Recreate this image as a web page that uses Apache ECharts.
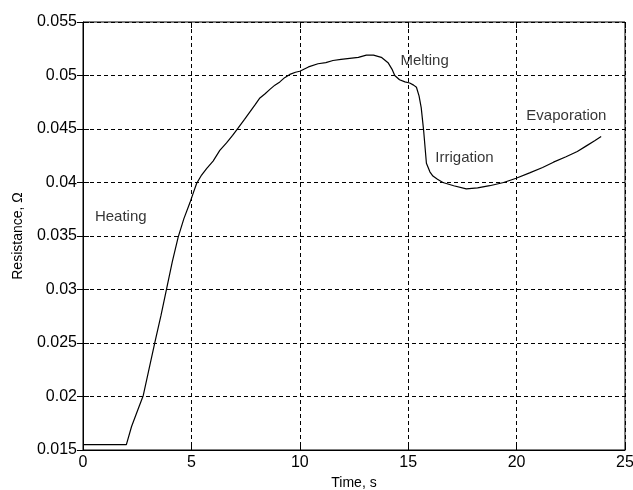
<!DOCTYPE html>
<html>
<head>
<meta charset="utf-8">
<title>Resistance vs time</title>
<script src="https://cdn.jsdelivr.net/npm/echarts@6/dist/echarts.min.js"></script>
<style>
  html, body { margin: 0; padding: 0; background: #fff; }
  #main { width: 633px; height: 490px; }
</style>
</head>
<body>
<div id="main"></div>
<script>
// 时间 (s) 与电阻 (Ω)
var timeS = [0, 2.0, 2.24, 2.5, 2.78, 3.05, 3.32, 3.6, 3.86, 4.12, 4.39, 4.65, 4.93, 5.1, 5.24,
  5.47, 5.7, 6.0, 6.31, 6.62, 6.9, 7.16, 7.45, 7.7, 7.95, 8.16, 8.4, 8.62, 8.85, 9.08, 9.3,
  9.54, 9.8, 10.0, 10.4, 10.84, 11.2, 11.53, 11.9, 12.3, 12.7, 13.07, 13.4, 13.76, 14.07,
  14.25, 14.38, 14.6, 14.85, 15.07, 15.25, 15.38, 15.5, 15.6, 15.71, 15.84, 16.0, 16.14,
  16.35, 16.6, 17.1, 17.68, 18.2, 18.76, 19.4, 19.98, 20.6, 21.2, 21.7, 22.28, 22.8, 23.2,
  23.6, 23.9];
var resistance = [0.0155, 0.0155, 0.0172, 0.0186, 0.0201, 0.0226, 0.0251, 0.0276, 0.0301,
  0.0326, 0.0349, 0.0366, 0.0381, 0.0391, 0.0399, 0.0407, 0.0413, 0.0420, 0.0430, 0.0437,
  0.0444, 0.0451, 0.0459, 0.0466, 0.0473, 0.0479, 0.0483, 0.0487, 0.0491, 0.0494, 0.0498,
  0.0501, 0.0503, 0.0504, 0.0508, 0.0511, 0.0512, 0.0514, 0.0515, 0.0516, 0.0517, 0.0519,
  0.0519, 0.0517, 0.0512, 0.0506, 0.0500, 0.0496, 0.0494, 0.0493, 0.0491, 0.0489, 0.0481,
  0.0470, 0.0449, 0.0418, 0.0410, 0.0406, 0.0403, 0.0400, 0.0397, 0.0394, 0.0395, 0.0397,
  0.0400, 0.0404, 0.0409, 0.0414, 0.0419, 0.0424, 0.0429, 0.0434, 0.0439, 0.0443];

// 阶段标注
var stageNames = ['Heating', 'Melting', 'Irrigation', 'Evaporation'];
var stageT = [0.55, 14.64, 16.25, 20.45];
var stageV = [0.0368, 0.0514, 0.04226, 0.04624];

var lineData = timeS.map(function (t, i) { return [t, resistance[i]]; });
var stageData = stageNames.map(function (n, i) { return { name: n, value: [stageT[i], stageV[i]] }; });

var font = 'Liberation Sans, Arial, sans-serif';
var dashGrid = { show: true, lineStyle: { color: '#000', type: [4, 3], width: 1 } };

var option = {
  backgroundColor: '#fff',
  animation: false,
  grid: {
    left: 83, right: 8, top: 22, bottom: 40, outerBoundsMode: 'none',
    show: true, borderColor: '#000', borderWidth: 1
  },
  xAxis: [{
    type: 'value', min: 0, max: 25, interval: 5,
    name: 'Time, s', nameLocation: 'middle', nameGap: 26,
    nameTextStyle: { fontFamily: font, fontSize: 14, color: '#000' },
    axisLine: { show: true, lineStyle: { color: '#000' } },
    axisTick: { show: true, inside: true, length: 6, lineStyle: { color: '#000' } },
    axisLabel: { fontFamily: font, fontSize: 16, color: '#000', margin: 5 },
    splitLine: dashGrid
  }, {
    type: 'value', min: 0, max: 25, interval: 5, position: 'top',
    axisLine: { show: false },
    axisTick: { show: true, inside: true, length: 6, lineStyle: { color: '#000' } },
    axisLabel: { show: false }, splitLine: { show: false }
  }],
  yAxis: [{
    type: 'value', min: 0.015, max: 0.055, interval: 0.005,
    name: 'Resistance, Ω', nameLocation: 'middle', nameGap: 58,
    nameTextStyle: { fontFamily: font, fontSize: 14, color: '#000' },
    axisLine: { show: true, lineStyle: { color: '#000' } },
    axisTick: { show: true, inside: true, length: 6, lineStyle: { color: '#000' } },
    axisLabel: { fontFamily: font, fontSize: 16, color: '#000', margin: 6 },
    splitLine: dashGrid
  }, {
    type: 'value', min: 0.015, max: 0.055, interval: 0.005, position: 'right',
    axisLine: { show: false },
    axisTick: { show: true, inside: true, length: 6, lineStyle: { color: '#000' } },
    axisLabel: { show: false }, splitLine: { show: false }
  }],
  series: [{
    type: 'line',
    data: lineData,
    showSymbol: false,
    lineStyle: { color: '#000', width: 1.2 },
    z: 5
  }, {
    type: 'scatter',
    data: stageData,
    symbolSize: 0,
    label: {
      show: true, position: 'right', distance: 0,
      formatter: '{b}', fontFamily: font, fontSize: 15, color: '#000'
    },
    z: 6
  }]
};

var chart = echarts.init(document.getElementById('main'));
chart.setOption(option);
</script>
</body>
</html>
